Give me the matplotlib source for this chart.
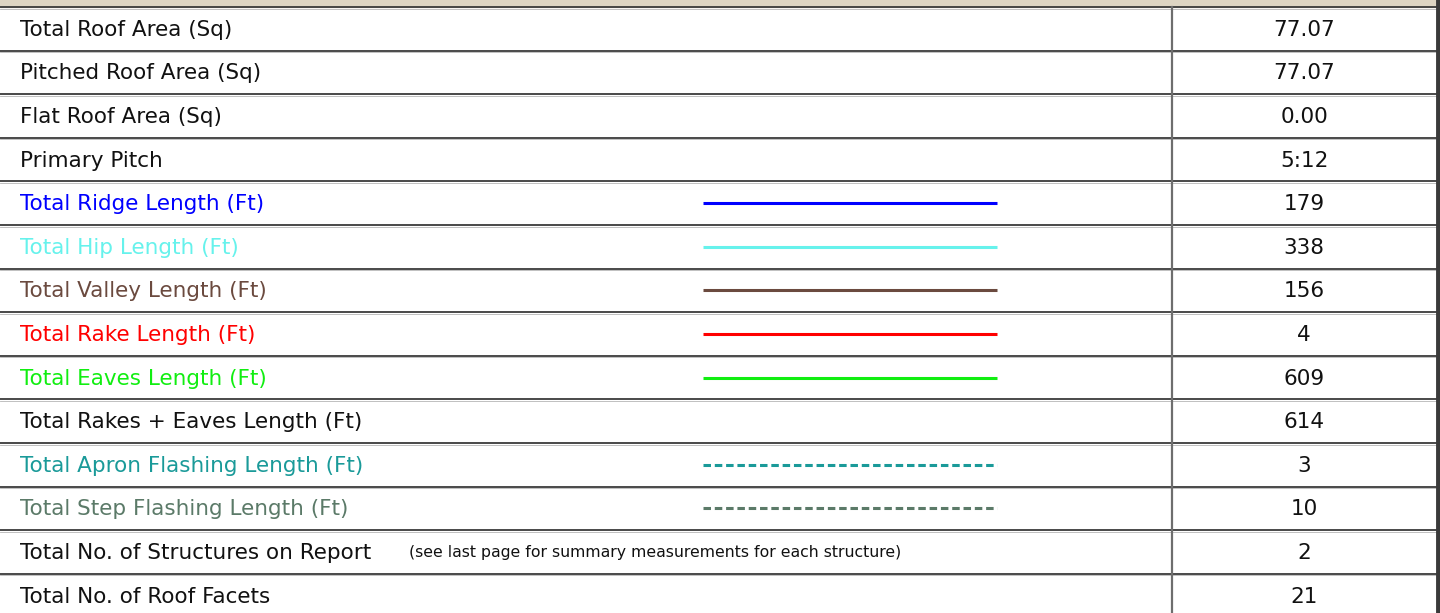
import matplotlib.pyplot as plt

labels = ["Total Roof Area (Sq)", "Pitched Roof Area (Sq)", "Flat Roof Area (Sq)",
          "Primary Pitch", "Total Ridge Length (Ft)", "Total Hip Length (Ft)",
          "Total Valley Length (Ft)", "Total Rake Length (Ft)", "Total Eaves Length (Ft)",
          "Total Rakes + Eaves Length (Ft)", "Total Apron Flashing Length (Ft)",
          "Total Step Flashing Length (Ft)", "Total No. of Structures on Report",
          "Total No. of Roof Facets"]
values = ["77.07", "77.07", "0.00", "5:12", "179", "338", "156", "4", "609",
          "614", "3", "10", "2", "21"]
colors = ["#111111", "#111111", "#111111", "#111111", "#0000ff", "#66f2ec",
          "#6b4a3f", "#ff0000", "#11ee11", "#111111", "#1a9a99", "#5b7a68",
          "#111111", "#111111"]
# legend line style per row (None = no line)
styles = [None, None, None, None, "-", "-", "-", "-", "-", None, "--", "--", None, None]
note = "(see last page for summary measurements for each structure)"

plt.rcParams['font.family'] = ['DejaVu Sans']

fig = plt.figure(figsize=(14.4, 6.13), dpi=100)
ax = fig.add_axes([0, 0, 1, 1])
ax.set_xlim(0, 1440)
ax.set_ylim(613, 0)
ax.axis("off")

top = 7
row_h = 43.6

# beige band at the top
ax.axhspan(0, top, color="#ddd5c3", zorder=0)

for i in range(len(labels)):
    y0 = top + i * row_h
    yc = y0 + row_h / 2
    ax.axhline(y0, color="#3a3a3a", lw=1.3, zorder=2)
    ax.axhline(y0 + 1.5, color="#b5b5b5", lw=0.6, zorder=2)
    ax.text(20, yc + 7, labels[i], color=colors[i], fontsize=15.5,
            va="baseline", ha="left")
    ax.text(1304, yc + 7, values[i], color="#111111", fontsize=15.5,
            va="baseline", ha="center")
    if styles[i] == "-":
        ax.plot([703, 997], [yc, yc], color=colors[i], lw=2.2, solid_capstyle="butt")
    elif styles[i] == "--":
        ax.plot([703, 997], [yc, yc], color=colors[i], lw=2.2, linestyle=(0, (2.45, 1.25)),
                dash_capstyle="butt")
    if i == 12:
        ax.text(409, yc + 5.5, note, color="#111111", fontsize=11.3,
                va="baseline", ha="left")

# column divider and right border
ax.plot([1172, 1172], [top, 613], color="#6e6e6e", lw=1.6)
ax.plot([1437.5, 1437.5], [0, 613], color="#3a3a3a", lw=3.5)

fig.savefig("out.png", dpi=100)
